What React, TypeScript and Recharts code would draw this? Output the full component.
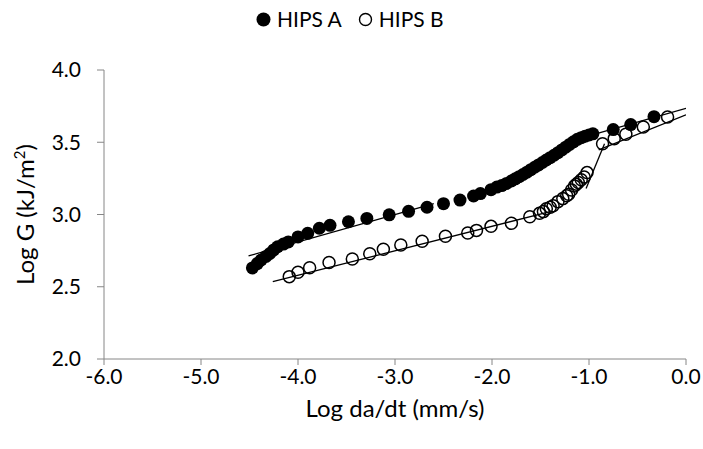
import { ScatterChart, Scatter, XAxis, YAxis, Label } from 'recharts'

// HIPS A (filled markers): [log da/dt, log G]
const hipsA: [number, number][] = [
  [-4.47, 2.63], [-4.42, 2.66], [-4.38, 2.685], [-4.33, 2.71], [-4.29, 2.73],
  [-4.25, 2.755], [-4.21, 2.777], [-4.15, 2.795], [-4.1, 2.81], [-4.0, 2.845],
  [-3.9, 2.87], [-3.78, 2.905], [-3.67, 2.925], [-3.48, 2.95], [-3.29, 2.973],
  [-3.06, 2.998], [-2.86, 3.022], [-2.67, 3.05], [-2.5, 3.075], [-2.33, 3.1],
  [-2.19, 3.128], [-2.12, 3.145], [-2.01, 3.172], [-1.95, 3.19], [-1.9, 3.2],
  [-1.85, 3.215], [-1.8, 3.232], [-1.76, 3.247], [-1.72, 3.262], [-1.68, 3.277],
  [-1.64, 3.293], [-1.6, 3.31], [-1.56, 3.327], [-1.52, 3.343], [-1.48, 3.36],
  [-1.44, 3.377], [-1.4, 3.393], [-1.36, 3.41], [-1.32, 3.428], [-1.28, 3.447],
  [-1.24, 3.466], [-1.2, 3.485], [-1.16, 3.503], [-1.12, 3.52], [-1.08, 3.532],
  [-1.04, 3.542], [-1.0, 3.55], [-0.96, 3.558], [-0.75, 3.588], [-0.57, 3.622],
  [-0.33, 3.677],
]

// HIPS B (open markers)
const hipsB: [number, number][] = [
  [-4.09, 2.57], [-4.0, 2.6], [-3.88, 2.632], [-3.68, 2.668], [-3.44, 2.692],
  [-3.26, 2.728], [-3.12, 2.76], [-2.94, 2.789], [-2.72, 2.815], [-2.48, 2.85],
  [-2.25, 2.872], [-2.16, 2.89], [-2.01, 2.918], [-1.8, 2.939], [-1.61, 2.985],
  [-1.51, 3.008], [-1.47, 3.02], [-1.44, 3.04], [-1.4, 3.05], [-1.37, 3.06],
  [-1.32, 3.089], [-1.27, 3.11], [-1.23, 3.13], [-1.21, 3.14], [-1.18, 3.17],
  [-1.15, 3.197], [-1.13, 3.21], [-1.11, 3.221], [-1.08, 3.24], [-1.05, 3.26],
  [-1.02, 3.29], [-0.86, 3.49], [-0.74, 3.525], [-0.62, 3.555], [-0.44, 3.605],
  [-0.19, 3.675],
]

// fitted segments (end points)
const fitA1: [number, number][] = [[-4.51, 2.713], [-2.6, 3.075]]
const fitA2: [number, number][] = [[-1.15, 3.517], [0, 3.735]]
const fitB1: [number, number][] = [[-4.26, 2.535], [-1.4, 3.02]]
const fitB2: [number, number][] = [[-1.03, 3.18], [-0.84, 3.49]]
const fitB3: [number, number][] = [[-0.9, 3.447], [0, 3.69]]

const xTicks = [-6, -5, -4, -3, -2, -1, 0]
const yTicks = [2, 2.5, 3, 3.5, 4]

const toPts = (arr: [number, number][]) => arr.map(([x, y]) => ({ x, y }))

const FONT = 'Lato, "Open Sans", sans-serif'
const AXIS = '#868686'

const Filled = (props: any) => <circle cx={props.cx} cy={props.cy} r={6.5} fill="#000" />
const Open = (props: any) => (
  <circle cx={props.cx} cy={props.cy} r={6} fill="none" stroke="#000" strokeWidth={1.5} />
)
const NoShape = () => <g />

const fits = [fitA1, fitA2, fitB1, fitB2, fitB3]

export default function App() {
  return (
    <div style={{ position: 'absolute', left: 0, top: 0, width: 703, height: 449, background: '#fff', fontFamily: FONT }}>
      {/* legend */}
      <div style={{ position: 'absolute', top: 5, left: 256, display: 'flex', fontSize: 21, color: '#000', lineHeight: '28px' }}>
        <span style={{ display: 'flex', alignItems: 'center', marginRight: 16 }}>
          <svg width={15} height={15} style={{ marginRight: 6 }}>
            <circle cx={7.5} cy={7.5} r={7} fill="#000" />
          </svg>
          HIPS A
        </span>
        <span style={{ display: 'flex', alignItems: 'center' }}>
          <svg width={15} height={15} style={{ marginRight: 6 }}>
            <circle cx={7.5} cy={7.5} r={6} fill="none" stroke="#000" strokeWidth={1.4} />
          </svg>
          HIPS B
        </span>
      </div>
      <ScatterChart width={703} height={449} margin={{ top: 70, right: 17, bottom: 30, left: 14 }}>
        <XAxis
          type="number"
          dataKey="x"
          domain={[-6, 0]}
          ticks={xTicks}
          tickFormatter={(v: number) => v.toFixed(1)}
          stroke={AXIS}
          tickSize={6}
          tickMargin={4}
          height={60}
          tick={{ fill: '#000', fontSize: 21, fontFamily: FONT }}
          allowDataOverflow
        >
          <Label
            content={({ viewBox }: any) => (
              <text x={viewBox.x + viewBox.width / 2} y={viewBox.y + 58} textAnchor="middle" fontSize={24} fontFamily={FONT} fill="#000">
                Log da/dt (mm/s)
              </text>
            )}
          />
        </XAxis>
        <YAxis
          type="number"
          dataKey="y"
          domain={[2, 4]}
          ticks={yTicks}
          tickFormatter={(v: number) => v.toFixed(1)}
          stroke={AXIS}
          tickSize={7}
          tickMargin={16}
          width={90}
          tick={{ fill: '#000', fontSize: 21, fontFamily: FONT }}
          allowDataOverflow
        >
          <Label
            content={({ viewBox }: any) => {
              const cx = viewBox.x + 20
              const cy = viewBox.y + viewBox.height / 2
              return (
                <text x={cx} y={cy} transform={`rotate(-90, ${cx}, ${cy})`} textAnchor="middle" fontSize={24} fontFamily={FONT} fill="#000">
                  Log G (kJ/m<tspan fontSize={15} dy={-9}>2</tspan><tspan dy={9}>)</tspan>
                </text>
              )
            }}
          />
        </YAxis>
        {fits.map((seg, i) => (
          <Scatter
            key={`fit-${i}`}
            data={toPts(seg)}
            line={{ stroke: '#000', strokeWidth: 1.3 }}
            shape={NoShape}
            legendType="none"
            isAnimationActive={false}
          />
        ))}
        <Scatter name="HIPS A" data={toPts(hipsA)} shape={Filled} isAnimationActive={false} />
        <Scatter name="HIPS B" data={toPts(hipsB)} shape={Open} isAnimationActive={false} />
      </ScatterChart>
    </div>
  )
}
